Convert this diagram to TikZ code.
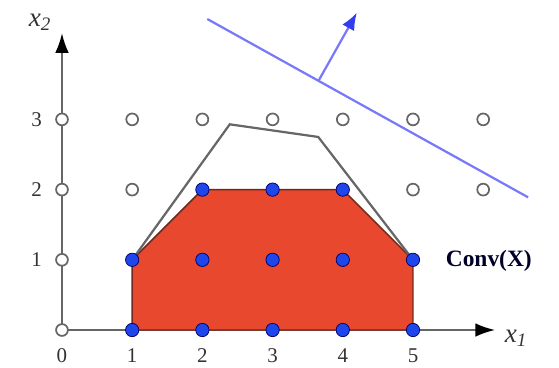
\documentclass[tikz,border=0pt]{standalone}
\usepackage{fontspec}
\setmainfont{Liberation Serif}
\usetikzlibrary{arrows.meta}
\definecolor{hullred}{RGB}{232,72,46}
\definecolor{hulledge}{RGB}{110,40,30}
\definecolor{dotblue}{RGB}{30,70,235}
\definecolor{lineblue}{RGB}{120,120,250}
\definecolor{arrowblue}{RGB}{50,60,240}
\begin{document}
\begin{tikzpicture}[
  opendot/.style={circle,draw=black!60,line width=0.7pt,fill=white,inner sep=0pt,minimum size=4.8pt},
  intdot/.style={circle,draw=blue!40!black,line width=0.3pt,fill=dotblue,inner sep=0pt,minimum size=5.4pt},
  axis/.style={draw=black!60,line width=0.8pt},
  tick/.style={font=\fontsize{8.5}{10}\selectfont,text=black!80},
]
\useasboundingbox (-0.883,-0.541) rectangle (7.080,4.701);
% axes
\coordinate (O) at (0,0);
\coordinate (xend) at (6.17,0);
\coordinate (yend) at (0,4.23);
\draw[axis,-{Latex[length=8pt,width=5.5pt,color=black]}] (O) -- (xend);
\draw[axis,-{Latex[length=8pt,width=5.5pt,color=black]}] (O) -- (yend);
\node[font=\fontsize{11}{13}\selectfont,text=black!80] (xl) at (6.47,-0.12) {\textit{x}\textsubscript{\textit{1}}};
\node[font=\fontsize{11}{13}\selectfont,text=black!80] (yl) at (-0.31,4.38) {\textit{x}\textsubscript{\textit{2}}};
% tick labels
\foreach \i in {0,...,5} \node[tick] (bx\i) at (\i,-0.36) {\i};
\foreach \j in {1,2,3} \node[tick] (ly\j) at (-0.36,\j) {\j};
% convex hull
\draw[fill=hullred,draw=hulledge,line width=0.6pt] (1,0) -- (1,1) -- (2,2) -- (4,2) -- (5,1) -- (5,0) -- cycle;
% LP relaxation
\draw[black!60,line width=0.9pt] (1,1) -- (2.39,2.93) -- (3.65,2.75) -- (5,1);
% objective line
\coordinate (la) at (2.07,4.43);
\coordinate (lb) at (6.64,1.89);
\coordinate (ab) at (3.66,3.56);
\coordinate (at) at (4.20,4.52);
\draw[lineblue,line width=0.9pt] (la) -- (lb);
\draw[lineblue,line width=0.9pt,-{Latex[length=7pt,width=5.5pt,color=arrowblue]}] (ab) -- (at);
% open points
\foreach \x in {0,...,6} \node[opendot] (p\x3) at (\x,3) {};
\foreach \x in {0,1,5,6} \node[opendot] (p\x2) at (\x,2) {};
\node[opendot] (p01) at (0,1) {};
\node[opendot] (p00) at (0,0) {};
% integer feasible points
\foreach \x in {1,...,5} \node[intdot] (q\x0) at (\x,0) {};
\foreach \x in {1,...,5} \node[intdot] (q\x1) at (\x,1) {};
\foreach \x in {2,3,4} \node[intdot] (q\x2) at (\x,2) {};
\node[font=\bfseries\fontsize{9.5}{11}\selectfont,text=black!85!blue] (conv) at (6.08,0.99) {Conv(X)};
\end{tikzpicture}
\end{document}
